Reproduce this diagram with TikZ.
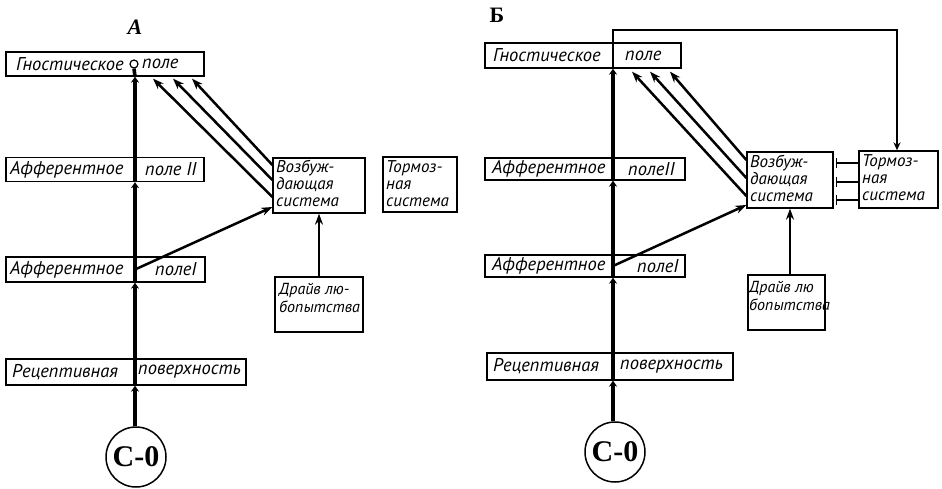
\documentclass[tikz,border=0pt]{standalone}
\usepackage{fontspec}
\setmainfont{PT Sans}
\newfontfamily\serifb{Liberation Serif}
\usetikzlibrary{arrows.meta}
\begin{document}
\begin{tikzpicture}[x=1pt,y=-1pt,
  box/.style={draw, line width=1.3pt, inner sep=0pt},
  txt/.style={font=\fontsize{18.5}{19}\selectfont\itshape, inner sep=0pt, anchor=west},
  mtxt/.style={font=\fontsize{17}{17}\selectfont\itshape, inner sep=0pt, align=left, anchor=north west},
  drtxt/.style={mtxt, font=\fontsize{16}{18}\selectfont\itshape},
  mainline/.style={line width=3.6pt},
  seg/.style={mainline, -{Stealth[length=6pt,width=8pt]}},
  diag/.style={line width=2.5pt, -{Stealth[length=11pt,width=8pt]}},
  inhib/.style={line width=2pt, -{Bar[width=10pt,line width=1.5pt]}, shorten >=2pt},
  cocirc/.style={draw, circle, line width=1.5pt, minimum size=60pt, inner sep=0pt,
    font=\serifb\bfseries\fontsize{30}{30}\selectfont},
  panlbl/.style={font=\serifb\bfseries\fontsize{22}{22}\selectfont, inner sep=0pt}
]
\useasboundingbox (0,0) rectangle (942,489);

% ================= Panel A =================
\node[panlbl, font=\serifb\bfseries\itshape\fontsize{22}{22}\selectfont] (labA) at (135,27) {А};

\node[box, minimum width=198pt, minimum height=24pt] (gnA) at (105,64) {};
\node[txt] (gnAt1) at (16,64) {Гностическое};
\node[txt] (gnAt2) at (142,64) {поле};
\node[draw, circle, line width=1.2pt, minimum size=8pt, inner sep=0pt] (gnAc) at (134,64) {};

\node[box, minimum width=198pt, minimum height=24pt] (affIIA) at (105,169.5) {};
\node[txt] (affIIAt1) at (10,169.5) {Афферентное};
\node[txt] (affIIAt2) at (145,169.5) {поле II};

\node[box, minimum width=199pt, minimum height=25pt] (affIA) at (105.5,269.5) {};
\node[txt] (affIAt1) at (10,269.5) {Афферентное};
\node[txt] (affIAt2) at (155,269.5) {полеI};

\node[box, minimum width=240pt, minimum height=26pt] (recA) at (126,372) {};
\node[txt] (recAt1) at (12,372) {Рецептивная};
\node[txt] (recAt2) at (138,372) {поверхность};

\node[cocirc] (coA) at (136,457) {C-0};

\node[box, minimum width=92pt, minimum height=55pt] (excA) at (319,185.5) {};
\node[mtxt] (excAt) at (276,160) {Возбуж-\\дающая\\система};

\node[box, minimum width=74pt, minimum height=55pt] (torA) at (420,184.5) {};
\node[mtxt] (torAt) at (386,160) {Тормоз-\\ная\\система};

\node[box, minimum width=88pt, minimum height=55pt] (drA) at (319,304.5) {};
\node[drtxt] (drAt) at (279,283) {Драйв лю-\\бопытства};

% main vertical line A
\coordinate (vA0) at (coA.north -| 135,0);
\draw[seg] (vA0) -- (recA.south -| vA0);
\draw[seg] (recA.south -| vA0) -- (affIA.south -| vA0);
\draw[seg] (affIA.south -| vA0) -- (affIIA.south -| vA0);
\draw[seg] (affIIA.south -| vA0) -- (gnA.south -| vA0);
\draw[mainline] (gnA.south -| vA0) -- (gnAc.south);

% diagonals A
\draw[diag] ([yshift=20.5pt]excA.west) -- ([xshift=87pt,yshift=-2pt]gnA.south);
\draw[diag] ([yshift=5.5pt]excA.west) -- ([xshift=68pt,yshift=-2pt]gnA.south);
\draw[diag] ([yshift=-11.5pt]excA.west) -- ([xshift=48pt,yshift=-2pt]gnA.south);
\coordinate (dA1) at (135,269.5);
\draw[diag] (dA1) -- ([yshift=-21.5pt]excA.west);
\draw[diag] (drA.north) -- (excA.south);

% ================= Panel B =================
\node[panlbl] (labB) at (497,15) {Б};

\node[box, minimum width=196pt, minimum height=25pt] (gnB) at (583,55.5) {};
\node[txt] (gnBt1) at (493,55.5) {Гностическое};
\node[txt] (gnBt2) at (625,55.5) {поле};

\node[box, minimum width=200pt, minimum height=22pt] (affIIB) at (585,169) {};
\node[txt] (affIIBt1) at (492,169) {Афферентное};
\node[txt] (affIIBt2) at (628,169) {полеII};

\node[box, minimum width=200pt, minimum height=22pt] (affIB) at (585,266) {};
\node[txt] (affIBt1) at (492,266) {Афферентное};
\node[txt] (affIBt2) at (637,266) {полеI};

\node[box, minimum width=246pt, minimum height=27pt] (recB) at (610,366.5) {};
\node[txt] (recBt1) at (493,366.5) {Рецептивная};
\node[txt] (recBt2) at (620,366.5) {поверхность};

\node[cocirc] (coB) at (615,452) {C-0};

\node[box, minimum width=86pt, minimum height=56pt] (excB) at (790,180) {};
\node[mtxt] (excBt) at (750,155) {Возбуж-\\дающая\\система};

\node[box, minimum width=79pt, minimum height=57pt] (torB) at (898.5,179.5) {};
\node[mtxt] (torBt) at (862,154) {Тормоз-\\ная\\система};

\node[box, minimum width=77pt, minimum height=55pt] (drB) at (786.5,302.5) {};
\node[drtxt] (drBt) at (749,281) {Драйв лю\\бопытства};

% main vertical line B
\coordinate (vB0) at (coB.north -| 613,0);
\coordinate (topL) at (613,30);
\coordinate (topR) at (897,30);
\draw[seg] (vB0) -- (recB.south -| vB0);
\draw[seg] (recB.south -| vB0) -- (affIB.south -| vB0);
\draw[seg] (affIB.south -| vB0) -- (affIIB.south -| vB0);
\draw[seg] (affIIB.south -| vB0) -- (gnB.south -| vB0);
\draw[mainline, line width=2.8pt, -{Stealth[length=8pt,width=7pt]}] (gnB.south -| vB0) -- (topL) -- (topR) -- (torB.north -| topR);

% diagonals B
\draw[diag] ([yshift=20pt]excB.west) -- ([xshift=87pt,yshift=-3pt]gnB.south);
\draw[diag] ([yshift=2pt]excB.west) -- ([xshift=67pt,yshift=-3pt]gnB.south);
\draw[diag] ([yshift=-16pt]excB.west) -- ([xshift=49pt,yshift=-3pt]gnB.south);
\coordinate (dB1) at (613,266);
\draw[diag] (dB1) -- ([yshift=-25pt]excB.west);
\draw[diag] (excB.south |- drB.north) -- (excB.south);

% inhibitory links
\draw[inhib] ([yshift=16.5pt]torB.west) -- ([yshift=16.5pt]torB.west -| excB.east);
\draw[inhib] ([yshift=-2.5pt]torB.west) -- ([yshift=-2.5pt]torB.west -| excB.east);
\draw[inhib] ([yshift=-20.5pt]torB.west) -- ([yshift=-20.5pt]torB.west -| excB.east);
\end{tikzpicture}
\end{document}
